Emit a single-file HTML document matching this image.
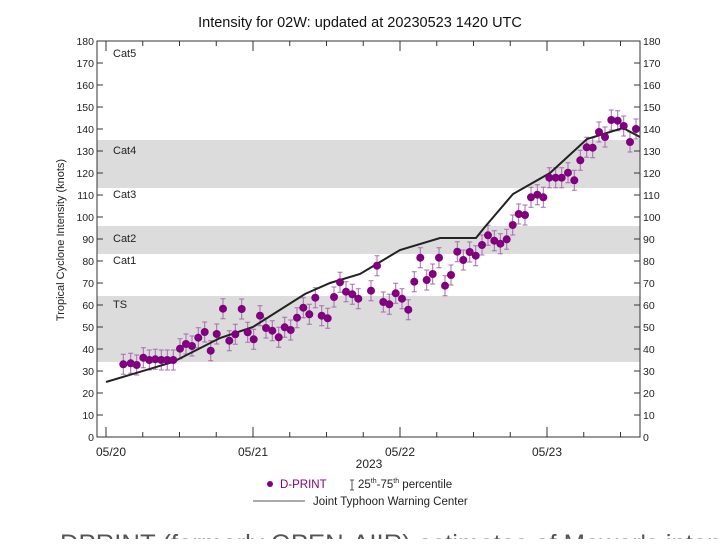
<!DOCTYPE html>
<html><head><meta charset="utf-8"><style>
body{margin:0;background:#fff;width:720px;height:539px;overflow:hidden;font-family:"Liberation Sans",sans-serif}
svg text{font-family:"Liberation Sans",sans-serif}
</style></head><body>
<svg id="s" width="720" height="539" xmlns="http://www.w3.org/2000/svg">
<rect x="97" y="296" width="543" height="66" fill="#dcdcdc"/>
<rect x="97" y="226" width="543" height="28" fill="#dcdcdc"/>
<rect x="97" y="140" width="543" height="48" fill="#dcdcdc"/>
<g font-size="11" fill="#222">
<text x="113" y="57">Cat5</text><text x="113" y="154">Cat4</text><text x="113" y="198">Cat3</text>
<text x="113" y="242">Cat2</text><text x="113" y="264">Cat1</text><text x="113" y="308">TS</text>
</g>
<g id="g"></g>
<rect x="97" y="41" width="543" height="396" fill="none" stroke="#333" stroke-width="1"/>
<text x="360" y="27" font-size="14.5" text-anchor="middle" fill="#111">Intensity for 02W: updated at 20230523 1420 UTC</text>
<text transform="translate(64,240) rotate(-90)" font-size="11" text-anchor="middle" fill="#222">Tropical Cyclone Intensity (knots)</text>
<g font-size="12" fill="#222" text-anchor="middle">
<text x="111" y="456">05/20</text><text x="253" y="456">05/21</text><text x="400" y="456">05/22</text><text x="547" y="456">05/23</text>
<text x="369" y="468">2023</text>
</g>
<circle cx="270" cy="484" r="3" fill="#800080"/>
<text x="280" y="488" font-size="11.5" fill="#800080">D-PRINT</text>
<path d="M350 480h4M352 480v10M350 490h4" stroke="#555" fill="none"/>
<text x="358" y="488" font-size="11.5" fill="#222">25<tspan font-size="7" dy="-5">th</tspan><tspan dy="5">-75</tspan><tspan font-size="7" dy="-5">th</tspan><tspan dy="5"> percentile</tspan></text>
<line x1="253" y1="501" x2="305" y2="501" stroke="#555"/>
<text x="313" y="505" font-size="11.5" fill="#222">Joint Typhoon Warning Center</text>
<text x="60" y="552" font-size="25" fill="#555" textLength="700" lengthAdjust="spacingAndGlyphs">DPRINT (formerly OPEN-AIIR) estimates of Mawar's intensity</text>
</svg>
<script>
const g=document.getElementById('g');let h='';
for(let v=0;v<=180;v+=10){const y=437-2.2*v;
h+=`<line x1="97" y1="${y}" x2="103" y2="${y}" stroke="#333"/><line x1="634" y1="${y}" x2="640" y2="${y}" stroke="#333"/>`;
h+=`<text x="94" y="${y+4}" font-size="10.5" text-anchor="end" fill="#222">${v}</text><text x="643" y="${y+4}" font-size="10.5" fill="#222">${v}</text>`;}
for(let i=0;i<=14;i++){const x=106+36.75*i;const L=i%4==0?10:5;h+=`<line x1="${x}" y1="437" x2="${x}" y2="${437-L}" stroke="#333"/><line x1="${x}" y1="41" x2="${x}" y2="${41+L}" stroke="#333"/>`;}
const d=[[123.3,364.3],[130.7,363.3],[136.7,365],[143.3,357.7],[149.3,360],[155.3,359.3],[161.3,360],[167.3,360],[173.3,360],[180,348.7],[186,344],[192,346],[198.3,337.7],[204.7,332],[210.7,350.7],[216.7,334],[223,308.7],[229.3,340.7],[235.3,334.3],[241.7,309],[247.7,332.3],[253.7,339.3],[260,315.7],[266,328],[272.3,330.7],[278.7,337.3],[284.7,327.3],[290.7,330],[297,317.7],[303.3,307.7],[309.3,314.3],[315.3,297.7],[321.7,315.7],[327.7,318.3],[334,297],[340,282.3],[346,291.7],[352.3,294.3],[358.3,298.7],[371,290.7],[377,265.7],[383.3,302],[389.3,304.3],[395.7,293.3],[402,298.7],[408.3,309.7],[414.3,281.7],[420.3,257.7],[426.7,280],[432.7,274],[439,257.7],[445,285.7],[451,275],[457.3,251.7],[463.3,260],[469.7,252],[475.7,255.7],[482,245],[488,235.3],[494.3,240.7],[500.3,243.7],[506.7,239.3],[512.7,225],[518.7,214],[525,215],[531,197.3],[537.3,194.7],[543.3,197.3],[549.3,177.7],[555.7,177.7],[561.7,177.7],[568,172.7],[574.3,180.3],[580.3,160.3],[586.7,147.3],[592.7,147.7],[599,132],[605,137],[611.3,120],[617.7,120.7],[623.7,126],[630,142],[636,129]];
for(const [x,y] of d){h+=`<path d="M${x-2.5} ${y-10}h5M${x} ${y-10}v20M${x-2.5} ${y+10}h5" stroke="#a070a8" fill="none" stroke-width="1"/>`;}
const line=[[106,382],[173,362],[220,338],[253,327],[305,294],[330,283],[360,274],[400,250],[440,238],[476,238],[484,228],[513,194],[550,173],[587,139],[623,128],[640,137]];
h+=`<polyline points="${line.map(p=>p.join(',')).join(' ')}" fill="none" stroke="#222" stroke-width="2"/>`;
for(const [x,y] of d){h+=`<circle cx="${x}" cy="${y}" r="4" fill="#800080"/>`;}
g.innerHTML=h;
</script>
</body></html>
